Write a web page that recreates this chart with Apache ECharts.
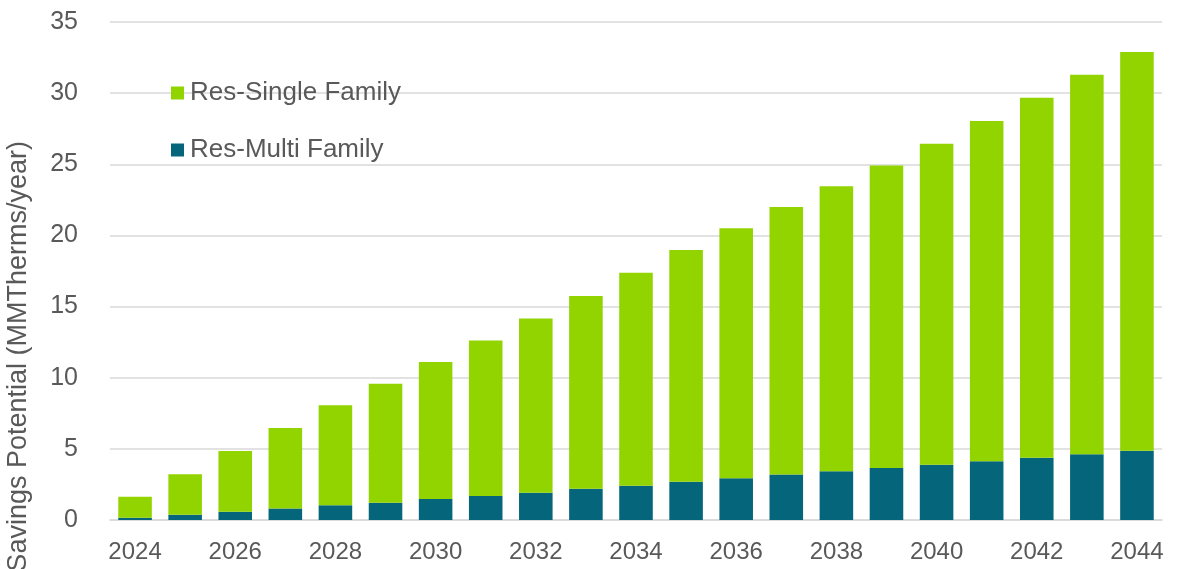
<!DOCTYPE html>
<html lang="en">
<head>
    <meta charset="UTF-8">
    <title>Savings Potential</title>
    <style>
        html, body { margin: 0; padding: 0; background: #fff; }
        #main { width: 1183px; height: 569px; }
    </style>
    <script src="https://cdn.jsdelivr.net/npm/echarts@6/dist/echarts.min.js"></script>
</head>
<body>
<div id="main"></div>
<script>
    // data
    var years = ["2024","2025","2026","2027","2028","2029","2030","2031","2032","2033","2034",
                 "2035","2036","2037","2038","2039","2040","2041","2042","2043","2044"];
    var multiFamily = [0.16, 0.37, 0.58, 0.80, 1.03, 1.22, 1.48, 1.69, 1.92, 2.20, 2.41,
                       2.69, 2.93, 3.19, 3.42, 3.66, 3.89, 4.13, 4.38, 4.62, 4.87];
    var singleFamily = [1.47, 2.85, 4.27, 5.66, 7.03, 8.36, 9.63, 10.92, 12.24, 13.55, 14.96,
                        16.28, 17.58, 18.80, 20.04, 21.26, 22.55, 23.91, 25.30, 26.67, 28.02];
    var yTicks = [0, 5, 10, 15, 20, 25, 30, 35];

    var textColor = "#595959";
    var font = "Liberation Sans, Arial, sans-serif";

    var chart = echarts.init(document.getElementById("main"));
    var option = {
        animation: false,
        textStyle: { fontFamily: font },
        grid: { left: 110, right: 21, top: 22, bottom: 49 },
        legend: {
            orient: "vertical",
            left: 171,
            top: 80,
            padding: 0,
            itemWidth: 13,
            itemHeight: 13,
            itemGap: 31,
            icon: "rect",
            data: ["Res-Single Family", "Res-Multi Family"],
            textStyle: { color: textColor, fontSize: 26, fontFamily: font, padding: [0, 0, 0, 1] }
        },
        xAxis: {
            type: "category",
            data: years,
            axisTick: { show: false },
            axisLine: { lineStyle: { color: "#d9d9d9", width: 1.5 } },
            axisLabel: { interval: 1, color: textColor, fontSize: 24, margin: 20, fontFamily: font }
        },
        yAxis: {
            type: "value",
            min: yTicks[0],
            max: yTicks[yTicks.length - 1],
            interval: 5,
            axisLine: { show: false },
            axisTick: { show: false },
            axisLabel: { color: textColor, fontSize: 25, margin: 32, fontFamily: font },
            splitLine: { lineStyle: { color: "#d9d9d9", width: 1.5 } }
        },
        graphic: [{
            type: "text",
            left: 5,
            top: 141,
            rotation: Math.PI / 2,
            style: {
                text: "Savings Potential (MMTherms/year)",
                fill: textColor,
                font: "27px " + font,
                textAlign: "center",
                textVerticalAlign: "middle"
            }
        }],
        series: [
            {
                name: "Res-Multi Family",
                type: "bar",
                stack: "total",
                barCategoryGap: "33%",
                itemStyle: { color: "#05667b" },
                data: multiFamily
            },
            {
                name: "Res-Single Family",
                type: "bar",
                stack: "total",
                barCategoryGap: "33%",
                itemStyle: { color: "#92d400" },
                data: singleFamily
            }
        ]
    };
    chart.setOption(option);
</script>
</body>
</html>
